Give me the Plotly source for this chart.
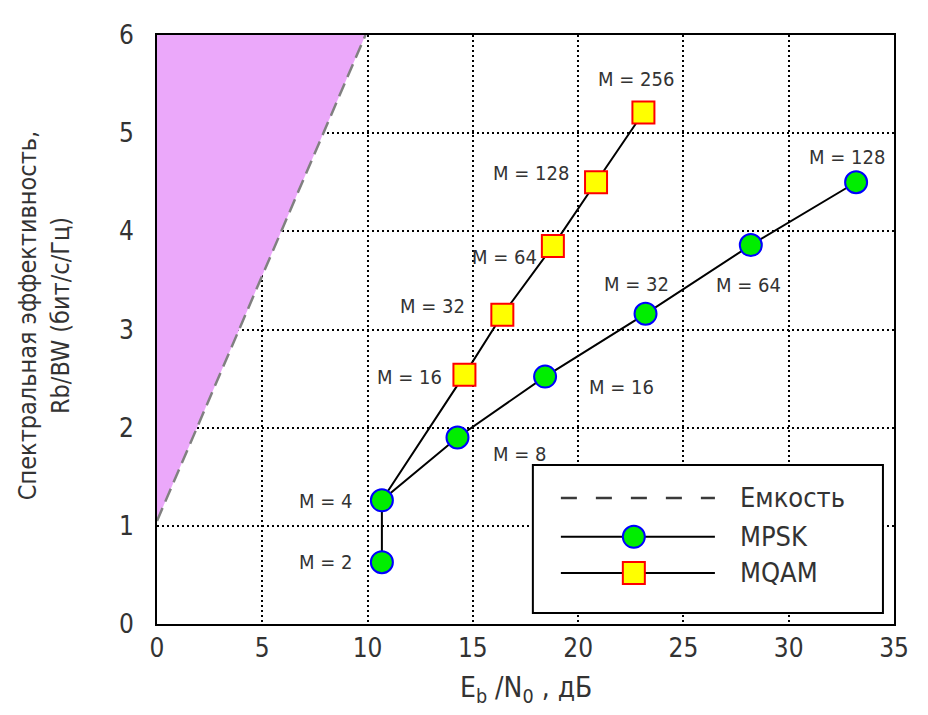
import plotly.graph_objects as go

# ---------------- data ----------------
cap_ebn0 = [0.0, 9.9]          # Eb/N0, dB  (capacity boundary)
cap_eff = [1.05, 6.0]          # Rb/BW

psk_M = [2, 4, 8, 16, 32, 64, 128]
psk_ebn0 = [10.68, 10.68, 14.27, 18.43, 23.2, 28.2, 33.2]
psk_eff = [0.63, 1.26, 1.9, 2.52, 3.16, 3.86, 4.5]

qam_M = [4, 16, 32, 64, 128, 256]
qam_ebn0 = [10.68, 14.6, 16.4, 18.8, 20.85, 23.1]
qam_eff = [1.26, 2.54, 3.15, 3.85, 4.5, 5.21]

x_ticks = [0, 5, 10, 15, 20, 25, 30, 35]
y_ticks = [0, 1, 2, 3, 4, 5, 6]

# label offsets (pixels, dx, dy-up) — styling only
psk_label_off = [(-56, 0), (-56, -1), (62, -17), (76, -10), (-9, 30), (-2, -40), (-9, 25)]
qam_label_off = [None, (-55, -2), (-70, 9), (-48, -11), (-65, 9), (-7, 34)]

FONT = "Liberation Sans Narrow, DejaVu Sans Condensed, Arial Narrow, Roboto, sans-serif"
TXT = "#333333"

fig = go.Figure()

# capacity region fill
fig.add_trace(go.Scatter(
    x=[*cap_ebn0, cap_ebn0[0]], y=[*cap_eff, cap_eff[-1]],
    fill="toself", fillcolor="#EBA8FA", mode="none",
    showlegend=False, hoverinfo="skip"))
# capacity line
fig.add_trace(go.Scatter(
    x=cap_ebn0, y=cap_eff, mode="lines",
    line=dict(color="#808080", width=2.5, dash="14px,7px"),
    showlegend=False))
# MQAM
fig.add_trace(go.Scatter(
    x=qam_ebn0, y=qam_eff, mode="lines+markers",
    line=dict(color="black", width=2),
    marker=dict(symbol="square", size=22, color="#FFFF00",
                line=dict(color="#FF0000", width=2),
                opacity=[0 if m == 4 else 1 for m in qam_M]),
    showlegend=False))
# MPSK
fig.add_trace(go.Scatter(
    x=psk_ebn0, y=psk_eff, mode="lines+markers",
    line=dict(color="black", width=2),
    marker=dict(symbol="circle", size=22, color="#00EE00",
                line=dict(color="#0000FF", width=2)),
    showlegend=False))

ann = []
for m, x, y, off in zip(psk_M, psk_ebn0, psk_eff, psk_label_off):
    ann.append(dict(x=x, y=y, text=f"M = {m}", showarrow=False,
                    xshift=off[0], yshift=off[1],
                    font=dict(family=FONT, size=20, color=TXT)))
for m, x, y, off in zip(qam_M, qam_ebn0, qam_eff, qam_label_off):
    if off is None:
        continue
    ann.append(dict(x=x, y=y, text=f"M = {m}", showarrow=False,
                    xshift=off[0], yshift=off[1],
                    font=dict(family=FONT, size=20, color=TXT)))

# axis titles
ann.append(dict(xref="paper", yref="paper", x=-0.153, y=0.523,
                text="Спектральная эффективность,<br>Rb/BW (бит/с/Гц)",
                textangle=-90, showarrow=False, xanchor="center", yanchor="middle",
                font=dict(family=FONT, size=25, color=TXT)))
ann.append(dict(xref="paper", yref="paper", x=0.5, y=-0.112,
                text="E<sub>b</sub> /N<sub>0</sub> , дБ",
                showarrow=False, xanchor="center", yanchor="middle",
                font=dict(family=FONT, size=28, color=TXT)))

# ---------- manual legend ----------
shapes = []
lx0, lx1, ly0, ly1 = 0.510, 0.985, 0.0187, 0.270
shapes.append(dict(type="rect", xref="paper", yref="paper", x0=lx0, x1=lx1, y0=ly0, y1=ly1,
                   line=dict(color="black", width=2), fillcolor="white", layer="above"))
rows = [0.214, 0.148, 0.0866]
names = ["Емкость", "MPSK", "MQAM"]
sx0, sx1, mx = 0.548, 0.757, 0.647
shapes.append(dict(type="line", xref="paper", yref="paper", x0=sx0, x1=sx1, y0=rows[0], y1=rows[0],
                   line=dict(color="#3a3a3a", width=2.5, dash="16px,19px"), layer="above"))
for r in rows[1:]:
    shapes.append(dict(type="line", xref="paper", yref="paper", x0=sx0, x1=sx1, y0=r, y1=r,
                       line=dict(color="black", width=2), layer="above"))
shapes.append(dict(type="circle", xref="paper", yref="paper", xsizemode="pixel", ysizemode="pixel",
                   xanchor=mx, yanchor=rows[1], x0=-11, x1=11, y0=-11, y1=11,
                   fillcolor="#00EE00", line=dict(color="#0000FF", width=2), layer="above"))
shapes.append(dict(type="rect", xref="paper", yref="paper", xsizemode="pixel", ysizemode="pixel",
                   xanchor=mx, yanchor=rows[2], x0=-11, x1=11, y0=-11, y1=11,
                   fillcolor="#FFFF00", line=dict(color="#FF0000", width=2), layer="above"))
for r, n in zip(rows, names):
    ann.append(dict(xref="paper", yref="paper", x=0.788, y=r, text=n, showarrow=False,
                    xanchor="left", yanchor="middle",
                    font=dict(family=FONT, size=27, color=TXT)))

grid = dict(showgrid=True, gridcolor="black", gridwidth=1.5, griddash="2px,3px")
fig.update_layout(
    width=928, height=715,
    margin=dict(l=157, r=34, t=35, b=91),
    paper_bgcolor="white", plot_bgcolor="white",
    font=dict(family=FONT, color=TXT),
    xaxis=dict(range=[0, 35], tickvals=x_ticks, ticks="", zeroline=False,
               showline=True, mirror=True, linecolor="black", linewidth=2,
               tickfont=dict(size=26, family=FONT, color=TXT), **grid),
    yaxis=dict(range=[0, 6], tickvals=y_ticks, ticks="", zeroline=False,
               showline=True, mirror=True, linecolor="black", linewidth=2,
               ticklabelstandoff=16,
               tickfont=dict(size=26, family=FONT, color=TXT), **grid),
    annotations=ann, shapes=shapes, showlegend=False,
)
fig.write_html("out.html")
